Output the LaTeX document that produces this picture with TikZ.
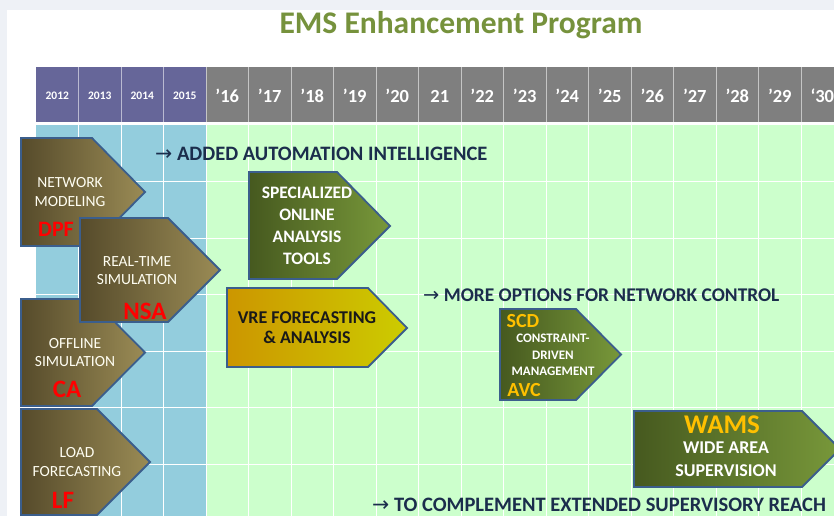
\documentclass[tikz,border=0pt]{standalone}
\usepackage{fontspec}
\setmainfont{Carlito}
\newfontfamily\arrowfont{DejaVu Sans}
\usepackage{xcolor}
\definecolor{titgreen}{HTML}{76923C}
\definecolor{navy}{HTML}{1B2D4C}
\definecolor{hdpurple}{HTML}{666699}
\definecolor{hdgray}{HTML}{7F7F7F}
\definecolor{oldblue}{HTML}{93CDDD}
\definecolor{newgreen}{HTML}{CCFFCC}
\definecolor{edgeblue}{HTML}{3B5E8C}
\definecolor{gold}{HTML}{FFC000}
\definecolor{darkbrown}{HTML}{564B2B}
\definecolor{lightbrown}{HTML}{9A8B55}
\definecolor{darkolive}{HTML}{46591F}
\definecolor{lightolive}{HTML}{78983A}
\definecolor{vreorange}{HTML}{CC9600}
\definecolor{vreyellow}{HTML}{CCCC00}
\definecolor{slidebg}{HTML}{EEF1F6}
\newcommand{\FT}{\fontsize{31.5}{36}\selectfont\bfseries}
\newcommand{\FY}{\fontsize{11.5}{14}\selectfont\bfseries}
\newcommand{\FQ}{\fontsize{18.5}{22}\selectfont\bfseries}
\newcommand{\FN}{\fontsize{15.5}{18.5}\selectfont}
\newcommand{\FR}{\fontsize{25}{28}\selectfont\bfseries}
\newcommand{\FG}{\fontsize{17.5}{22}\selectfont\bfseries}
\newcommand{\FS}{\fontsize{13}{16.5}\selectfont\bfseries}
\newcommand{\FW}{\fontsize{27}{30}\selectfont\bfseries}
\newcommand{\FA}{\fontsize{20.5}{22}\selectfont\bfseries}
\newcommand{\goalarrow}{{\arrowfont\mdseries →}}

\begin{document}
\begin{tikzpicture}[x=1pt,y=-1pt]
\tikzstyle{texto}=[inner sep=0pt,align=center]
\tikzstyle{year}=[texto,white,font=\FY]
\tikzstyle{yr}=[texto,white,font=\FQ]
\tikzstyle{cellsep}=[white,opacity=0.55,line width=1pt]
\tikzstyle{gridline}=[white,line width=1pt]
\tikzstyle{oldbox}=[draw=edgeblue,line width=1.8pt,line join=miter,left color=darkbrown,right color=lightbrown]
\tikzstyle{newbox}=[draw=edgeblue,line width=1.8pt,line join=miter,left color=darkolive,right color=lightolive]
\tikzstyle{vrebox}=[draw=edgeblue,line width=1.8pt,line join=miter,left color=vreorange,right color=vreyellow]
\tikzstyle{oldtext}=[texto,white!95!yellow,font=\FN]
\tikzstyle{code}=[texto,red,font=\FR]
\tikzstyle{newtext}=[texto,white,font=\FG]
\tikzstyle{goal}=[texto,navy,font=\FA,anchor=west]

\useasboundingbox (0,0) rectangle (834,516);
\clip (0,0) rectangle (834,516);
\fill[slidebg] (0,0) rectangle (834,516);
\fill[white] (7,10) rectangle (834,516);

% title
\node[texto,titgreen,font=\FT] (title) at (461,25) {EMS Enhancement Program};

% header row
\foreach \i/\t in {0/2012,1/2013,2/2014,3/2015}{
  \fill[hdpurple] (36+42.5*\i,67) rectangle (78.5+42.5*\i,122);
  \node[year] (y\i) at (57.25+42.5*\i,96) {\t};
}
\foreach \i/\t in {4/'16,5/'17,6/'18,7/'19,8/'20,9/21,10/'22,11/'23,12/'24,13/'25,14/'26,15/'27,16/'28,17/'29,18/`30}{
  \fill[hdgray] (36+42.5*\i,67) rectangle (78.5+42.5*\i,122);
  \node[yr] (y\i) at (57.25+42.5*\i,96) {\t};
}
\foreach \i in {1,...,18}
  \draw[cellsep] (36+42.5*\i,67) -- (36+42.5*\i,122);

% body and grid
\fill[oldblue] (36,125) rectangle (206,516);
\fill[newgreen] (206,125) rectangle (834,516);
\foreach \i in {1,...,18}
  \draw[gridline] (36+42.5*\i,125) -- (36+42.5*\i,516);
\foreach \y in {181.5,238,294.5,351,407.5,464}
  \draw[gridline] (36,\y) -- (834,\y);

% existing tools
\draw[oldbox] (21,138) -- (92,138) -- (145,192) -- (92,246) -- (21,246) -- cycle;
\draw[oldbox] (21,299) -- (92,299) -- (145,352.5) -- (92,406) -- (21,406) -- cycle;
\draw[oldbox] (21,409) -- (97,409) -- (150,462) -- (97,515) -- (21,515) -- cycle;
\draw[oldbox] (80,218) -- (168,218) -- (220,270) -- (168,322) -- (80,322) -- cycle;

\node[oldtext] (netmod) at (70,192) {NETWORK\\MODELING};
\node[code,font=\fontsize{22}{24}\selectfont\bfseries] (dpf) at (56,229) {DPF};
\node[oldtext] (rtsim) at (137,270.5) {REAL-TIME\\SIMULATION};
\node[code] (nsa) at (145,311) {NSA};
\node[oldtext] (offsim) at (75,352.5) {OFFLINE\\SIMULATION};
\node[code] (ca) at (67,389) {CA};
\node[oldtext] (loadfc) at (77,462) {LOAD\\FORECASTING};
\node[code] (lf) at (63,500) {LF};

% new tools
\draw[newbox] (249,172) -- (337,172) -- (390,226) -- (337,279) -- (249,279) -- cycle;
\draw[vrebox] (227,288) -- (368,288) -- (407,328) -- (368,367) -- (227,367) -- cycle;
\draw[newbox] (500,309) -- (576,309) -- (621,354.5) -- (576,400) -- (500,400) -- cycle;
\draw[newbox] (634,411) -- (802,411) -- (840,449) -- (802,487) -- (634,487) -- cycle;

\node[newtext] (sota) at (307,226) {SPECIALIZED\\ONLINE\\ANALYSIS\\TOOLS};
\node[texto,black!90,font=\fontsize{18}{20}\selectfont\bfseries] (vre) at (307,328) {VRE FORECASTING\\\& ANALYSIS};
\node[texto,gold,font=\fontsize{20}{22}\selectfont\bfseries] (scd) at (523,321) {SCD};
\node[texto,white,font=\FS] (cdm) at (553,355) {CONSTRAINT-\\DRIVEN\\MANAGEMENT};
\node[texto,gold,font=\fontsize{20}{22}\selectfont\bfseries] (avc) at (524,390) {AVC};
\node[texto,gold,font=\FW] (wams) at (722,425) {WAMS};
\node[texto,white,font=\fontsize{18}{23}\selectfont\bfseries] (was) at (726,459.5) {WIDE AREA\\SUPERVISION};

% goals
\node[goal] (goal1) at (155,154) {\goalarrow\ ADDED AUTOMATION INTELLIGENCE};
\node[goal,font=\fontsize{19.4}{22}\selectfont\bfseries] (goal2) at (423,295) {\goalarrow\ MORE OPTIONS FOR NETWORK CONTROL};
\node[goal] (goal3) at (372,505) {\goalarrow\ TO COMPLEMENT EXTENDED SUPERVISORY REACH};
\end{tikzpicture}
\end{document}
